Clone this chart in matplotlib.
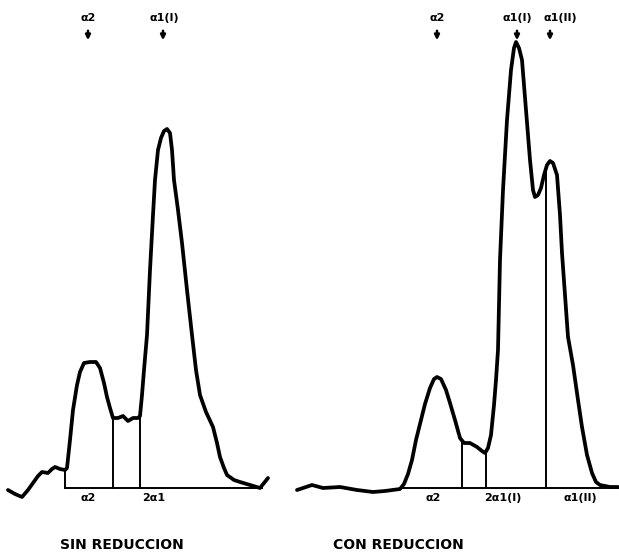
import numpy as np
import matplotlib
matplotlib.use("Agg")
import matplotlib.pyplot as plt

# Densitometry scans (x = migration position, y = optical density, arbitrary units)
left_x = [8, 15, 22, 28, 33, 38, 42, 48, 52, 55, 60, 65, 67, 70, 73, 77, 80, 84, 90, 96,
          100, 104, 107, 110, 113, 118, 123, 128, 133, 138, 140, 142, 144, 147, 150, 153, 155, 158, 161, 164,
          167, 170, 172, 174, 178, 182, 187, 192, 196, 200, 206, 213, 217, 220, 224, 227, 234, 240, 250, 260,
          264, 268]
left_d = [-2, -6, -9, -2, 5, 12, 16, 15, 19, 21, 19, 18, 20, 48, 78, 103, 116, 125, 126, 126,
          120, 105, 91, 80, 70, 70, 72, 67, 70, 70, 72, 93, 118, 153, 218, 273, 308, 338, 350, 357,
          359, 355, 338, 308, 278, 245, 198, 153, 118, 93, 76, 61, 45, 31, 20, 13, 8, 6, 3, 0,
          5, 10]

right_x = [297, 303, 312, 323, 340, 357, 373, 385, 400, 404, 408, 412, 416, 420, 425, 430, 434, 437, 441, 446,
           450, 455, 460, 464, 470, 477, 482, 485, 488, 491, 494, 496, 498, 500, 503, 507, 511, 514, 516, 519,
           522, 526, 530, 533, 535, 538, 541, 544, 547, 550, 553, 557, 560, 562, 565, 568, 573, 578, 582, 587,
           592, 596, 600, 610, 618]
right_d = [-2, 0, 3, 0, 1, -2, -4, -3, -1, 4, 14, 28, 48, 64, 84, 100, 109, 111, 109, 98,
           85, 68, 50, 45, 45, 41, 37, 35, 40, 53, 83, 108, 138, 228, 298, 368, 418, 440, 446, 440,
           428, 378, 328, 298, 291, 293, 300, 313, 323, 327, 325, 313, 273, 235, 193, 151, 123, 88, 61, 33,
           15, 6, 3, 1, 1]

# Integration limits (drop lines) and baseline extents
left_cuts = [65, 113, 140]
right_cuts = [462, 486, 546]
left_base = [65, 262]
right_base = [400, 618]

# Labels
left_bottom_labels = [("α2", 88), ("2α1", 154)]
right_bottom_labels = [("α2", 433), ("2α1(I)", 503), ("α1(II)", 580)]
left_top_labels = [("α2", 88, 88), ("α1(I)", 164, 163)]
right_top_labels = [("α2", 437, 437), ("α1(I)", 517, 517), ("α1(II)", 560, 550)]
titles = [("SIN REDUCCION", 122), ("CON REDUCCION", 398)]

fig = plt.figure(figsize=(6.19, 5.58), dpi=100)
ax = fig.add_axes([0, 0, 1, 1])
ax.set_xlim(0, 619)
ax.set_ylim(-70, 488)
ax.axis("off")

lw_curve = 2.7
lw_thin = 1.4
for xs, ds, cuts, base in [(left_x, left_d, left_cuts, left_base),
                           (right_x, right_d, right_cuts, right_base)]:
    ax.plot(xs, ds, color="black", lw=lw_curve, solid_joinstyle="round",
            solid_capstyle="round")
    ax.plot(base, [0, 0], color="black", lw=lw_thin)
    for c in cuts:
        h = np.interp(c, xs, ds)
        ax.plot([c, c], [0, h], color="black", lw=lw_thin)

for lab, x in left_bottom_labels + right_bottom_labels:
    ax.text(x, -10, lab, ha="center", va="center", fontsize=8,
            fontweight="bold", family="DejaVu Sans")

for lab, tx, axx in left_top_labels + right_top_labels:
    ax.text(tx, 470, lab, ha="center", va="center", fontsize=8,
            fontweight="bold", family="DejaVu Sans")
    ax.annotate("", xy=(axx, 445), xytext=(axx, 460),
                arrowprops=dict(arrowstyle="-|>", color="black", lw=1.8,
                                mutation_scale=7))

for lab, x in titles:
    ax.text(x, -57, lab, ha="center", va="center", fontsize=10,
            fontweight="bold", family="DejaVu Sans")

fig.savefig("out.png", dpi=100, facecolor="white")
